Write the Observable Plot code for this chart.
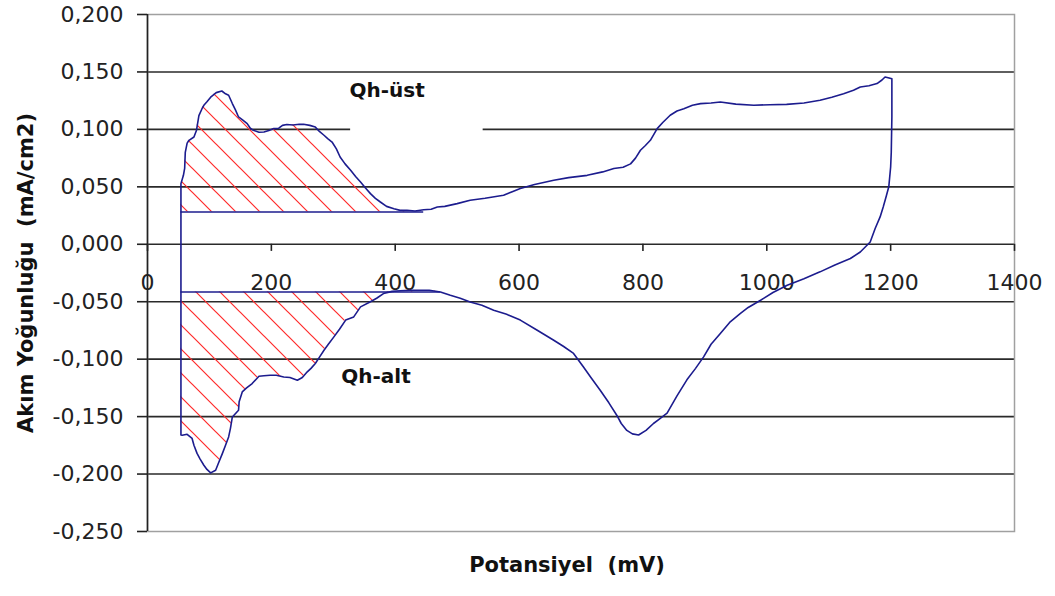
<!DOCTYPE html>
<html><head><meta charset="utf-8">
<script src="https://cdn.jsdelivr.net/npm/d3@7"></script>
<script src="https://cdn.jsdelivr.net/npm/@observablehq/plot@0.6"></script>
<style>body{margin:0;background:#fff}</style>
</head><body><div id="chart"></div>
<script>
// Anodic sweep (left to right, including reversal at 1200 mV)
const anodicX = [54,58,60,61,64,67,75,79,83,88,91,96,102,111,120,126,131,137,142,147,154,161,166,171,180,188,196,204,212,218,225,235,245,252,262,271,278,285,291,298,305,311,319,328,336,344,352,360,368,376,386,398,408,419,432,446,458,468,480,500,521,545,575,590,602,625,656,680,710,735,753,768,780,788,796,804,812,823,832,844,855,866,880,893,910,925,950,979,1005,1032,1060,1086,1105,1124,1140,1151,1165,1178,1186,1191,1196,1202,1202,1201,1200,1197,1193,1188,1183,1175,1167];
const anodicY = [0.0528,0.060,0.066,0.080,0.088,0.0905,0.0934,0.099,0.112,0.118,0.121,0.124,0.128,0.132,0.1334,0.131,0.1297,0.1225,0.117,0.1108,0.108,0.105,0.101,0.0992,0.0975,0.0977,0.099,0.1007,0.101,0.1035,0.1042,0.1038,0.1045,0.1044,0.1035,0.102,0.098,0.0949,0.092,0.089,0.083,0.076,0.070,0.0644,0.059,0.0542,0.049,0.0441,0.040,0.0368,0.033,0.031,0.0295,0.0296,0.029,0.030,0.0305,0.0325,0.033,0.0354,0.0383,0.040,0.0426,0.046,0.0485,0.052,0.0557,0.058,0.060,0.063,0.0659,0.067,0.070,0.075,0.0818,0.086,0.0905,0.1007,0.106,0.1123,0.116,0.118,0.121,0.1224,0.123,0.1238,0.122,0.121,0.1215,0.1218,0.123,0.1253,0.128,0.1311,0.134,0.1369,0.138,0.1399,0.143,0.1456,0.145,0.144,0.111,0.080,0.0673,0.050,0.042,0.0325,0.0238,0.0137,0.002];
// Cathodic sweep (right to left)
const cathodicX = [1151,1135,1110,1086,1060,1033,1010,990,970,957,940,925,910,898,885,871,855,839,827,817,805,793,783,774,765,758,745,731,716,704,688,672,656,630,602,580,559,540,521,505,489,473,455,441,425,408,395,381,370,360,344,333,320,310,301,292,285,278,271,264,258,250,242,230,220,208,198,188,180,169,160,153,148,147,137,134,131,126,121,115,110,102,96,91,85,80,75,72,64,56,54];
const cathodicY = [-0.0067,-0.0124,-0.018,-0.024,-0.030,-0.0357,-0.042,-0.0487,-0.055,-0.0603,-0.068,-0.0777,-0.087,-0.098,-0.108,-0.118,-0.132,-0.147,-0.152,-0.156,-0.162,-0.166,-0.165,-0.162,-0.156,-0.149,-0.138,-0.127,-0.116,-0.1068,-0.095,-0.089,-0.0835,-0.075,-0.066,-0.061,-0.0574,-0.053,-0.0502,-0.047,-0.0444,-0.0415,-0.040,-0.040,-0.040,-0.0405,-0.041,-0.0429,-0.047,-0.050,-0.0545,-0.0632,-0.066,-0.074,-0.0806,-0.087,-0.0922,-0.098,-0.1038,-0.108,-0.111,-0.116,-0.1184,-0.116,-0.1155,-0.114,-0.114,-0.1145,-0.1149,-0.1212,-0.125,-0.1285,-0.137,-0.1445,-0.1503,-0.160,-0.1677,-0.175,-0.182,-0.190,-0.1967,-0.199,-0.196,-0.1923,-0.187,-0.182,-0.175,-0.169,-0.1654,-0.1662,-0.166];

// Hydrogen regions (baseline levels and extents)
const regionNames = ["Qh-üst","Qh-alt"];
const regionBase = [0.0281,-0.0415];
const regionX1 = [54,54];
const regionX2 = [446,473];
const regionLabelX = [387,369];
const regionLabelY = [0.134,-0.1155];
// White text box behind "Qh-üst" label (hides part of a gridline)
const boxX1 = [328], boxX2 = [542], boxY1 = [0.098], boxY2 = [0.145];

const xTicks = [0,200,400,600,800,1000,1200,1400];
const yTicks = [0.2,0.15,0.1,0.05,0,-0.05,-0.1,-0.15,-0.2,-0.25];
const gridTicks = [0.15,0.1,0.05,0,-0.05,-0.1,-0.15,-0.2];
const xTitle = "Potansiyel\u00a0 (mV)";
const yTitle = "Akım Yoğunluğu\u00a0 (mA/cm2)";

const anodic = anodicX.map((x,i)=>({x, y: anodicY[i]}));
const cathodic = cathodicX.map((x,i)=>({x, y: cathodicY[i]}));
const loop = [...anodic, ...cathodic, anodic[0]];
const upperHatch = anodic.filter(d => d.x >= regionX1[0] && d.x <= regionX2[0] && d.y > 0.02).sort((a,b)=>a.x-b.x);
const lowerHatch = cathodic.filter(d => d.x >= regionX1[1] && d.x <= regionX2[1]).sort((a,b)=>a.x-b.x);
const regions = regionNames.map((name,i)=>({name, base: regionBase[i], x1: regionX1[i], x2: regionX2[i], lx: regionLabelX[i], ly: regionLabelY[i]}));
const boxes = boxX1.map((x1,i)=>({x1, x2: boxX2[i], y1: boxY1[i], y2: boxY2[i]}));

const fmt = d3.formatLocale({decimal:",", thousands:".", grouping:[3], currency:["",""], minus:"-"}).format(".3f");
const navy = "#1c1c8e";

const plot = Plot.plot({
  width: 1055, height: 596,
  marginLeft: 147, marginRight: 41, marginTop: 14, marginBottom: 65,
  style: {fontFamily: "DejaVu Sans", fontSize: "22px", color: "#222", background: "#fff"},
  x: {domain: [0,1400], axis: null},
  y: {domain: [-0.25,0.2], axis: null},
  marks: [
    Plot.ruleY(gridTicks, {stroke: "#2a2a2a", strokeWidth: 1.6}),
    Plot.frame({stroke: "#a0a0a0", strokeWidth: 1.5}),
    Plot.rect(boxes, {x1: "x1", x2: "x2", y1: "y1", y2: "y2", fill: "white"}),
    Plot.ruleX([0], {stroke: "#222", strokeWidth: 1.6}),
    Plot.axisY({ticks: yTicks, tickSize: 10, tickPadding: 14, tickFormat: fmt, label: null, fontSize: 22, fill: "#222", stroke: "#222", strokeWidth: 1.6}),
    Plot.ruleX(xTicks, {x: d => d, y1: 0, y2: -0.0062, stroke: "#222", strokeWidth: 1.6}),
    Plot.text(xTicks, {x: d => d, y: 0, dy: 39, text: d => String(d), fontSize: 22, fill: "#222"}),
    Plot.areaY(upperHatch, {x: "x", y1: regionBase[0], y2: "y", fill: "url(#hatch)"}),
    Plot.areaY(lowerHatch, {x: "x", y1: regionBase[1], y2: "y", fill: "url(#hatch)"}),
    Plot.ruleY(regions, {y: "base", x1: "x1", x2: "x2", stroke: navy, strokeWidth: 1.5}),
    Plot.line(loop, {x: "x", y: "y", stroke: navy, strokeWidth: 1.6}),
    Plot.text(regions, {x: "lx", y: "ly", text: "name", fontWeight: "bold", fontSize: 20, fill: "#111"}),
    Plot.text([xTitle], {frameAnchor: "bottom", dy: 40, dx: -14, fontWeight: "bold", fontSize: 21, fill: "#111"}),
    Plot.text([yTitle], {frameAnchor: "left", textAnchor: "middle", lineAnchor: "middle", rotate: -90, dx: -121, fontWeight: "bold", fontSize: 21, fill: "#111"})
  ]
});

const defs = document.createElementNS("http://www.w3.org/2000/svg", "defs");
defs.innerHTML = '<pattern id="hatch" patternUnits="userSpaceOnUse" width="24" height="24"><path d="M-6,18 L6,30 M0,0 L24,24 M18,-6 L30,6" stroke="#ff2a2a" stroke-width="1.2" fill="none"/></pattern>';
plot.insertBefore(defs, plot.firstChild);
document.getElementById("chart").appendChild(plot);
</script>
</body></html>
